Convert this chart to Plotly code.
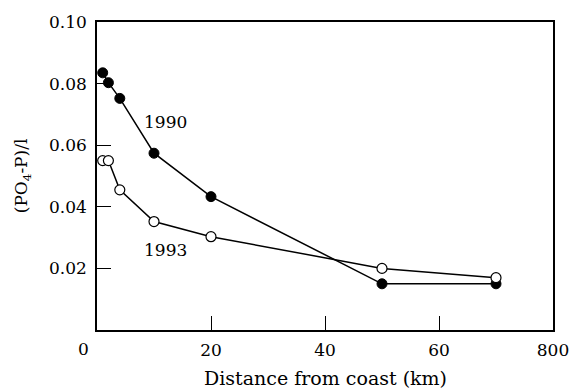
import plotly.graph_objects as go

distance_km = [1, 2, 4, 10, 20, 50, 70]
po4_1990 = [0.0835, 0.0803, 0.0752, 0.0574, 0.0433, 0.015, 0.015]
po4_1993 = [0.055, 0.055, 0.0455, 0.0352, 0.0303, 0.020, 0.017]

x_tickvals = [20, 40, 60, 80]
x_ticktext = ["20", "40", "60", "800"]
y_tickvals = [0.02, 0.04, 0.06, 0.08, 0.10]
y_ticktext = ["0.02", "0.04", "0.06", "0.08", "0.10"]

FONT = "DejaVu Serif, serif"
FS = 17
fig = go.Figure()
fig.add_trace(go.Scatter(
    x=distance_km, y=po4_1990, mode="lines+markers",
    line=dict(color="black", width=1.5),
    marker=dict(symbol="circle", size=10, color="black", line=dict(color="black", width=1)),
    showlegend=False))
fig.add_trace(go.Scatter(
    x=distance_km, y=po4_1993, mode="lines+markers",
    line=dict(color="black", width=1.5),
    marker=dict(symbol="circle", size=10, color="white", line=dict(color="black", width=1.2)),
    showlegend=False))

fig.add_annotation(x=12.0, y=0.0675, text="1990", showarrow=False,
                   font=dict(family=FONT, size=FS, color="black"))
fig.add_annotation(x=12.0, y=0.026, text="1993", showarrow=False,
                   font=dict(family=FONT, size=FS, color="black"))
fig.add_annotation(x=0, y=0, xref="x", yref="y", text="0", showarrow=False,
                   xshift=-14, yshift=-19,
                   font=dict(family=FONT, size=FS, color="black"))
# axis titles
fig.add_annotation(x=0.5, y=-0.156, xref="paper", yref="paper",
                   text="Distance from coast (km)", showarrow=False,
                   xanchor="center", yanchor="middle",
                   font=dict(family=FONT, size=19, color="black"))
fig.add_annotation(x=-0.164, y=0.5, xref="paper", yref="paper",
                   text="(PO<sub>4</sub>-P)/l", showarrow=False, textangle=-90,
                   xanchor="center", yanchor="middle",
                   font=dict(family=FONT, size=FS, color="black"))

fig.update_layout(
    width=572, height=389,
    margin=dict(l=97, r=19, t=22, b=59),
    paper_bgcolor="white", plot_bgcolor="white",
    font=dict(family=FONT, size=FS, color="black"),
)
fig.update_xaxes(
    range=[0, 80], showgrid=False, zeroline=False, automargin=False,
    showline=True, linecolor="black", linewidth=1.5, mirror=True,
    ticks="inside", ticklen=14, tickcolor="black", tickwidth=1,
    tickvals=x_tickvals, ticktext=x_ticktext,
    tickfont=dict(family=FONT, size=FS), ticklabelstandoff=4,
)
fig.update_yaxes(
    range=[0, 0.10], showgrid=False, zeroline=False, automargin=False,
    showline=True, linecolor="black", linewidth=1.5, mirror=True,
    ticks="inside", ticklen=14, tickcolor="black", tickwidth=1,
    tickvals=y_tickvals, ticktext=y_ticktext,
    tickfont=dict(family=FONT, size=FS), ticklabelstandoff=5,
)

fig.write_html("out.html")
